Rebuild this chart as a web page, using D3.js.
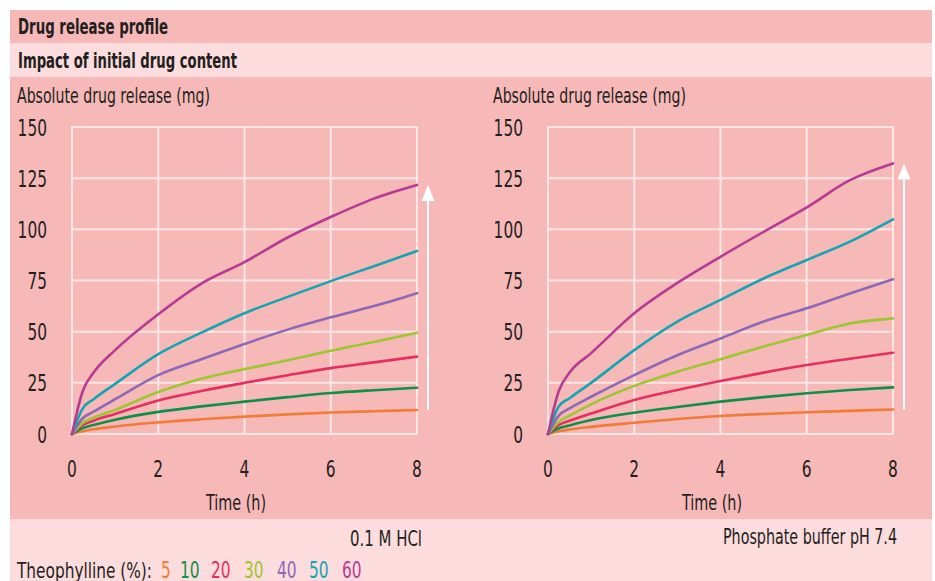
<!DOCTYPE html>
<html>
<head>
<meta charset="utf-8">
<script src="https://cdn.jsdelivr.net/npm/d3@7"></script>
<style>
  html, body { margin: 0; padding: 0; background: #ffffff; }
  svg { display: block; }
  text { font-family: "Liberation Sans Narrow", "DejaVu Sans Condensed", sans-serif; fill: #231f20; }
</style>
</head>
<body>
<div id="chart"></div>
<script>
// ---------- data ----------
const timePoints = [0, 0.25, 0.5, 1, 2, 3, 4, 5, 6, 7, 8];
const contents = ["5", "10", "20", "30", "40", "50", "60"];
const seriesColors = ["#f07c37", "#0d9148", "#e5305f", "#9cc731", "#8c69b5", "#13a5b3", "#b83b93"];

// 0.1 M HCl
const hcl5  = [0, 1.3, 2.3, 3.7, 5.7, 7.2, 8.5, 9.6, 10.5, 11.1, 11.7];
const hcl10 = [0, 2.9, 4.4, 7.0, 10.8, 13.5, 15.8, 18.0, 20.0, 21.4, 22.6];
const hcl20 = [0, 4.4, 6.5, 9.8, 16.4, 21.0, 25.0, 28.7, 32.2, 35.0, 37.8];
const hcl30 = [0, 5.4, 8.0, 11.8, 20.5, 27.0, 31.7, 36.0, 40.7, 45.0, 49.5];
const hcl40 = [0, 7.7, 10.9, 17.0, 28.8, 36.5, 44.0, 51.0, 57.0, 62.5, 68.8];
const hcl50 = [0, 12.5, 17.0, 24.5, 39.0, 49.5, 59.0, 67.0, 74.7, 82.0, 89.4];
const hcl60 = [0, 21.0, 30.0, 41.0, 58.5, 73.5, 84.0, 96.0, 106.0, 115.0, 121.7];

// Phosphate buffer pH 7.4
const pb5  = [0, 1.3, 2.2, 3.5, 5.5, 7.3, 8.8, 9.8, 10.6, 11.3, 12.0];
const pb10 = [0, 2.8, 4.2, 6.8, 10.4, 13.2, 15.8, 18.0, 19.9, 21.5, 22.8];
const pb20 = [0, 4.4, 6.5, 10.0, 16.6, 21.5, 25.9, 30.0, 33.7, 36.8, 39.7];
const pb30 = [0, 6.0, 9.0, 14.5, 23.5, 30.4, 36.5, 42.7, 48.4, 54.0, 56.5];
const pb40 = [0, 9.0, 12.5, 18.2, 28.8, 38.5, 46.7, 55.0, 61.4, 68.7, 75.6];
const pb50 = [0, 13.5, 17.5, 25.0, 41.0, 54.9, 65.5, 76.0, 85.0, 94.0, 104.9];
const pb60 = [0, 21.0, 30.0, 39.5, 59.0, 73.8, 86.6, 98.8, 110.7, 124.0, 132.2];

const xTicks = [0, 2, 4, 6, 8];
const yTicks = [0, 25, 50, 75, 100, 125, 150];

const titleText = "Drug release profile";
const subtitleText = "Impact of initial drug content";
const yAxisTitle = "Absolute drug release (mg)";
const xAxisTitle = "Time (h)";
const panelNames = ["0.1 M HCl", "Phosphate buffer pH 7.4"];
const legendTitle = "Theophylline (%):";

// ---------- layout ----------
const W = 935, H = 581;
const DARK = "#f7b8b8", LIGHT = "#fcdcdd", GRID = "#fde6e6";
const DIGIT_W = 9.8;

const svg = d3.select("#chart").append("svg").attr("width", W).attr("height", H);

// background bands
svg.append("rect").attr("x", 10).attr("y", 10).attr("width", 922).attr("height", 33).attr("fill", DARK);
svg.append("rect").attr("x", 10).attr("y", 43).attr("width", 922).attr("height", 34).attr("fill", LIGHT);
svg.append("rect").attr("x", 10).attr("y", 77).attr("width", 922).attr("height", 442).attr("fill", DARK);
svg.append("rect").attr("x", 10).attr("y", 519).attr("width", 922).attr("height", 62).attr("fill", LIGHT);

svg.append("text").attr("x", 18).attr("y", 34).attr("font-size", 22).attr("font-weight", "bold")
  .attr("textLength", 150).attr("lengthAdjust", "spacingAndGlyphs").text(titleText);
svg.append("text").attr("x", 18).attr("y", 68).attr("font-size", 22).attr("font-weight", "bold")
  .attr("textLength", 219).attr("lengthAdjust", "spacingAndGlyphs").text(subtitleText);

const panels = [
  { left: 72, data: [hcl5, hcl10, hcl20, hcl30, hcl40, hcl50, hcl60], name: panelNames[0], nameRight: 422, nameW: 72, nameY: 546 },
  { left: 548, data: [pb5, pb10, pb20, pb30, pb40, pb50, pb60], name: panelNames[1], nameRight: 897, nameW: 174, nameY: 544 }
];

const plotW = 345, plotTop = 127, plotBottom = 434;

panels.forEach(p => {
  const g = svg.append("g");
  const x = d3.scaleLinear().domain([0, 8]).range([p.left, p.left + plotW]);
  const y = d3.scaleLinear().domain([0, 150]).range([plotBottom, plotTop]);

  // grid
  g.selectAll(".vg").data(xTicks).join("line")
    .attr("x1", d => x(d)).attr("x2", d => x(d))
    .attr("y1", y(150)).attr("y2", y(0))
    .attr("stroke", GRID).attr("stroke-width", 2);
  g.selectAll(".hg").data(yTicks).join("line")
    .attr("x1", x(0) - 1).attr("x2", x(8) + 1)
    .attr("y1", d => y(d)).attr("y2", d => y(d))
    .attr("stroke", GRID).attr("stroke-width", 2);

  // y tick labels
  g.selectAll(".yl").data(yTicks).join("text")
    .attr("x", p.left - 25).attr("y", d => y(d) + 8.5)
    .attr("text-anchor", "end").attr("font-size", 23)
    .attr("textLength", d => String(d).length * DIGIT_W).attr("lengthAdjust", "spacingAndGlyphs")
    .text(d => d);
  // x tick labels
  g.selectAll(".xl").data(xTicks).join("text")
    .attr("x", d => x(d)).attr("y", 477)
    .attr("text-anchor", "middle").attr("font-size", 23)
    .attr("textLength", d => String(d).length * DIGIT_W).attr("lengthAdjust", "spacingAndGlyphs")
    .text(d => d);

  // axis titles
  g.append("text").attr("x", p.left - 55).attr("y", 103).attr("font-size", 22)
    .attr("textLength", 193).attr("lengthAdjust", "spacingAndGlyphs").text(yAxisTitle);
  g.append("text").attr("x", p.left + 134).attr("y", 510).attr("font-size", 22)
    .attr("textLength", 60).attr("lengthAdjust", "spacingAndGlyphs").text(xAxisTitle);

  // panel name
  g.append("text").attr("x", p.nameRight - p.nameW).attr("y", p.nameY).attr("font-size", 22)
    .attr("textLength", p.nameW).attr("lengthAdjust", "spacingAndGlyphs").text(p.name);

  // lines
  const line = d3.line().x((d, i) => x(timePoints[i])).y(d => y(d)).curve(d3.curveMonotoneX);
  p.data.forEach((s, k) => {
    g.append("path").attr("d", line(s)).attr("fill", "none")
      .attr("stroke", seriesColors[k]).attr("stroke-width", 2.6)
      .attr("stroke-linecap", "round").attr("stroke-linejoin", "round");
  });

  // arrow showing increasing drug content
  const ax = x(8) + 11;
  const yTop = y(p.data[p.data.length - 1][timePoints.length - 1]);
  const yBot = y(p.data[0][timePoints.length - 1]);
  g.append("line").attr("x1", ax).attr("x2", ax).attr("y1", yTop + 14).attr("y2", yBot)
    .attr("stroke", "#ffffff").attr("stroke-width", 2);
  g.append("path")
    .attr("d", `M${ax},${yTop} L${ax + 6.5},${yTop + 16} L${ax - 6.5},${yTop + 16} Z`)
    .attr("fill", "#ffffff");
});

// legend
svg.append("text").attr("x", 17).attr("y", 578).attr("font-size", 22)
  .attr("textLength", 135).attr("lengthAdjust", "spacingAndGlyphs").text(legendTitle);
const legendX = [161, 180, 211, 244, 277, 309, 342];
svg.selectAll(".lg").data(contents).join("text")
  .attr("x", (d, i) => legendX[i]).attr("y", 578).attr("font-size", 23)
  .attr("textLength", d => d.length * DIGIT_W).attr("lengthAdjust", "spacingAndGlyphs")
  .attr("fill", (d, i) => seriesColors[i]).style("fill", (d, i) => seriesColors[i])
  .text(d => d);
</script>
</body>
</html>
